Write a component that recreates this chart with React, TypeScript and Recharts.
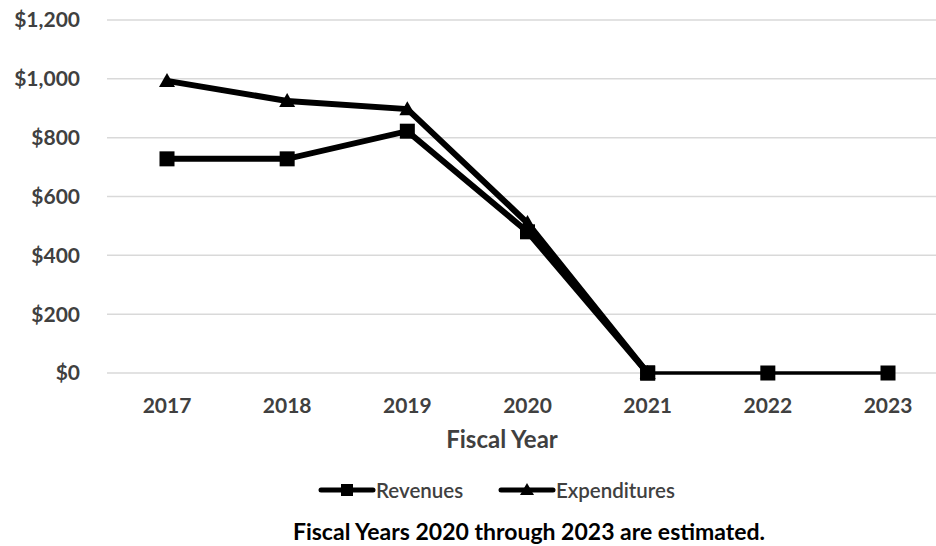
import { LineChart, Line, XAxis, YAxis, CartesianGrid } from "recharts";

// Fiscal year revenues vs expenditures (in $).
const years = ["2017", "2018", "2019", "2020", "2021", "2022", "2023"];
const revenues = [728, 728, 822, 480, 0, null, null];
// after 2021 only revenues are drawn, with a thinner stroke
const revenuesTail = [null, null, null, null, 0, 0, 0];
const expenditures = [993, 925, 897, 510, 0, null, null];
const yTicks = [0, 200, 400, 600, 800, 1000, 1200];

const data = years.map((year, i) => ({
  year,
  revenues: revenues[i],
  revenuesTail: revenuesTail[i],
  expenditures: expenditures[i],
}));

const FONT = "Lato, 'Open Sans', sans-serif";
const INK = "#404040";

const fmtDollar = (v: number) => "$" + v.toLocaleString("en-US");

function SquareDot(props: any) {
  const { cx, cy } = props;
  if (cx == null || cy == null) return null;
  return <rect x={cx - 7.5} y={cy - 7.5} width={15} height={15} fill="#000" />;
}

function TriangleDot(props: any) {
  const { cx, cy } = props;
  if (cx == null || cy == null) return null;
  return <path d={`M${cx} ${cy - 8} L${cx + 8} ${cy + 6} L${cx - 8} ${cy + 6} Z`} fill="#000" />;
}

// legend drawn by hand, Excel style: thick line with the marker in the middle
function LegendItem({ label, marker, left }: { label: string; marker: "square" | "triangle"; left: number }) {
  return (
    <div style={{ position: "absolute", left, top: 478, display: "flex", alignItems: "center" }}>
      <svg width={58} height={18}>
        <line x1={3} y1={9} x2={55} y2={9} stroke="#000" strokeWidth={5} strokeLinecap="round" />
        {marker === "square" ? (
          <rect x={23} y={3} width={12} height={12} fill="#000" />
        ) : (
          <path d="M29 2 L36 14 L22 14 Z" fill="#000" />
        )}
      </svg>
      <span style={{ fontFamily: FONT, fontSize: 20.5, fontWeight: 600, color: INK }}>{label}</span>
    </div>
  );
}

export default function App() {
  return (
    <div
      style={{
        position: "absolute",
        left: 0,
        top: 0,
        width: 936,
        height: 546,
        overflow: "hidden",
        background: "#fff",
      }}
    >
      <LineChart
        width={948}
        height={546}
        data={data}
        margin={{ top: 20, right: 0, left: 0, bottom: 0 }}
      >
        <CartesianGrid vertical={false} stroke="#d9d9d9" strokeWidth={1.5} />
        <XAxis
          dataKey="year"
          axisLine={false}
          tickLine={false}
          tickSize={0}
          tickMargin={25}
          height={173}
          padding={{ left: 60, right: 60 }}
          tick={{ fill: INK, fontSize: 21, fontWeight: 700, fontFamily: FONT }}
        />
        <YAxis
          domain={[0, 1200]}
          ticks={yTicks}
          width={107}
          axisLine={false}
          tickLine={false}
          tickSize={0}
          tickMargin={27}
          tickFormatter={fmtDollar}
          tick={{ fill: INK, fontSize: 21, fontWeight: 700, fontFamily: FONT }}
        />
        <Line
          dataKey="revenues"
          name="Revenues"
          stroke="#000"
          strokeWidth={6}
          dot={<SquareDot />}
          isAnimationActive={false}
        />
        <Line
          dataKey="revenuesTail"
          legendType="none"
          stroke="#000"
          strokeWidth={3.5}
          dot={<SquareDot />}
          isAnimationActive={false}
        />
        <Line
          dataKey="expenditures"
          name="Expenditures"
          stroke="#000"
          strokeWidth={6}
          dot={<TriangleDot />}
          isAnimationActive={false}
        />
      </LineChart>
      <div
        style={{
          position: "absolute",
          left: 0,
          width: 1004,
          top: 424,
          textAlign: "center",
          fontFamily: FONT,
          fontSize: 24,
          fontWeight: 700,
          color: INK,
        }}
      >
        Fiscal Year
      </div>
      <LegendItem label="Revenues" marker="square" left={318} />
      <LegendItem label="Expenditures" marker="triangle" left={498} />
      <div
        style={{
          position: "absolute",
          left: 0,
          width: 1058,
          top: 517,
          textAlign: "center",
          fontFamily: FONT,
          fontSize: 23,
          fontWeight: 700,
          color: "#000",
        }}
      >
        Fiscal Years 2020 through 2023 are estimated.
      </div>
    </div>
  );
}
